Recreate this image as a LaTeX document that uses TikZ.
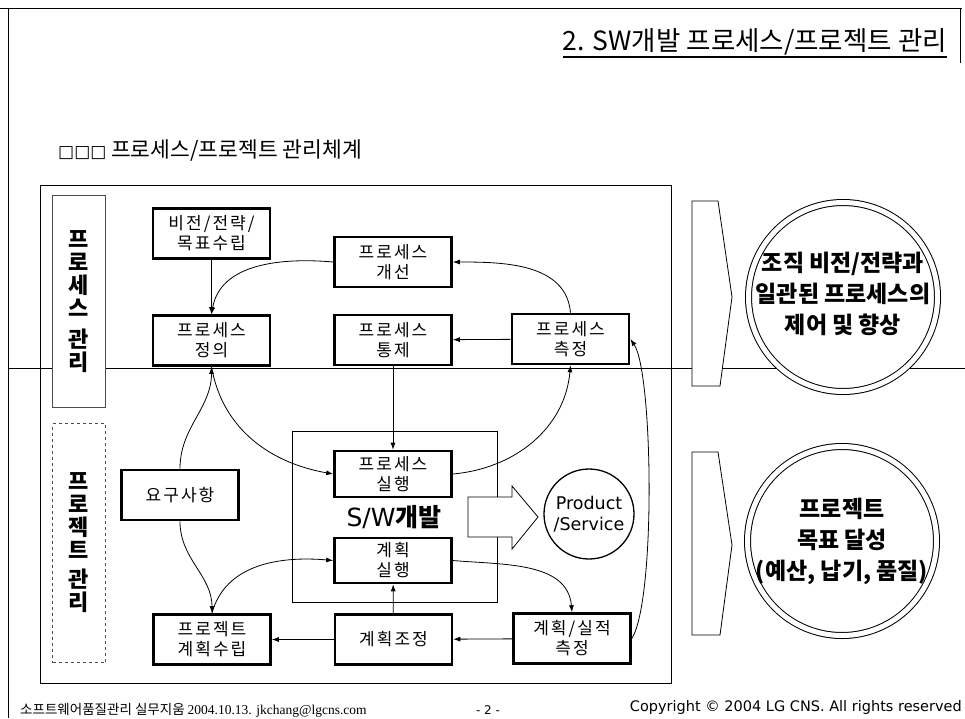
\documentclass[tikz,border=0pt]{standalone}
\usepackage{fontspec}
\setmainfont{Noto Sans CJK KR}
\newfontfamily\dejavu{DejaVu Sans}
\newfontfamily\timesfont{Liberation Serif}
\usetikzlibrary{arrows.meta}

\tikzset{
  thinline/.style={line width=0.8pt},
  pbox/.style={draw, line width=2.6pt, fill=white, minimum width=117pt, minimum height=50pt,
    inner sep=0pt, align=center, font=\fontsize{17}{20}\selectfont\addfontfeature{LetterSpace=12}},
  flow/.style={-{Latex[length=7pt,width=5pt]}, line width=0.8pt},
  sidelabel/.style={draw=black!70, line width=0.7pt, fill=white, minimum width=53pt, inner sep=0pt,
    align=center, font=\fontsize{22}{23}\selectfont\bfseries},
  goal/.style={circle, draw, double, double distance=5pt, line width=1pt, fill=white,
    minimum size=189pt, inner sep=0pt},
  goaltext/.style={align=center, inner sep=0pt, font=\fontsize{23}{31}\selectfont\bfseries},
  lens/.style={thinline, fill=white}
}

\begin{document}
\begin{tikzpicture}[x=1pt,y=-1pt]
\useasboundingbox (0,0) rectangle (965,718);

% page frame and divider
\draw[thinline] (0,8) -- (962,8);
\draw[thinline] (8,8) -- (8,718);
\draw[thinline] (960,8) -- (960,63);
\draw[thinline] (8,368) -- (965,368);

% heading
\node[anchor=base east, inner sep=0pt, font=\fontsize{26.5}{32}\selectfont] (title) at (947,50)
  {2. SW개발 프로세스/프로젝트 관리};
\draw[line width=1.3pt] ([yshift=-7pt]title.base west) -- ([yshift=-7pt]title.base east);
\node[anchor=base west, inner sep=0pt, font=\fontsize{21.5}{24}\selectfont] (subtitle) at (58,157)
  {{\dejavu\fontsize{17}{20}\selectfont □□□} 프로세스/프로젝트 관리체계};

% frames
\draw[thinline] (40,185) rectangle (671,683);
\draw[thinline] (292,431) rectangle (497,602);

% side labels
\node[sidelabel, minimum height=212pt] (proclabel) at (78.5,301.5) {프\\로\\세\\스\\[8pt]관\\리};
\node[sidelabel, dashed, minimum height=239pt] (projlabel) at (79,543) {프\\로\\젝\\트\\[6pt]관\\리};

% process boxes
\node[pbox] (vision)  at (211.5,233.5) {비전/전략/\\목표수립};
\node[pbox] (define)  at (211.5,340.5) {프로세스\\정의};
\node[pbox] (improve) at (393,262)     {프로세스\\개선};
\node[pbox] (control) at (393,340)     {프로세스\\통제};
\node[pbox] (measure) at (570.5,339)   {프로세스\\측정};

% project boxes
\node[pbox] (require)     at (180,495)     {요구사항};
\node[pbox, minimum height=46pt] (execproc) at (393,474)   {프로세스\\실행};
\node[pbox, minimum height=45pt] (execplan) at (393,560.5) {계획\\실행};
\node[pbox] (projplan)    at (212,639.5)   {프로젝트\\계획수립};
\node[pbox] (adjust)      at (393.5,639.5) {계획조정};
\node[pbox] (planmeasure) at (572,638.5)   {계획/실적\\측정};

\node[font=\fontsize{25}{28}\selectfont] (swdev) at (394,517) {{\dejavu S/W}\textbf{개발}};

% output arrow and product
\draw[thinline, fill=white] (468,497) -- (512,497) -- (512,486) -- (538,517) -- (512,549)
  -- (512,537) -- (468,537) -- cycle;
\node[circle, draw, line width=1.3pt, fill=white, minimum size=90pt, inner sep=0pt, align=center,
  font=\dejavu\fontsize{17.5}{21}\selectfont] (product) at (589,514) {Product\\/Service};

% connectors
\draw[flow] (vision) -- (define);
\draw[flow] (improve.west) to[out=175,in=80] (define.north);
\draw[flow] (measure.north) to[out=95,in=0] (improve.east);
\draw[flow] (measure) -- (control);
\draw[flow] (control) -- (execproc);
\draw[flow] (require.north) to[out=90,in=-90] (define.south);
\draw[flow] (define.south) to[out=-80,in=170] (execproc.west);
\draw[flow] (execproc.east) to[out=5,in=-95] (measure.south);
\draw[flow] (require.south) to[out=-90,in=90] (projplan.north);
\draw[flow] (projplan.north) to[out=75,in=175] (execplan.west);
\draw[flow] (execplan.east) to[out=-5,in=95] (planmeasure.north);
\draw[flow] (planmeasure) -- (adjust);
\draw[flow] (adjust) -- (projplan);
\draw[flow] (adjust) -- (execplan);
\draw[flow] (planmeasure.east) .. controls (656,600) and (653,372) .. (measure.east);

% goals
\draw[lens] (692,201) -- (718,201) -- (732,297) -- (720,386) -- (692,386) -- cycle;
\draw[lens] (692,452) -- (718,452) -- (732,545) -- (720,635) -- (692,635) -- cycle;
\node[goal] (procgoal) at (843,297) {};
\node[goaltext] (procgoaltext) at (843,294) {조직 비전/전략과\\일관된 프로세스의\\제어 및 향상};
\node[goal] (projgoal) at (842,541) {};
\node[goaltext] (projgoaltext) at (842,541) {프로젝트\\목표 달성\\(예산, 납기, 품질)};

% footer
\node[anchor=base west, inner sep=0pt, font=\fontsize{13.5}{15}\selectfont] (footleft) at (20,714)
  {소프트웨어품질관리 실무지움 {\timesfont 2004.10.13. jkchang@lgcns.com}};
\node[anchor=base, inner sep=0pt, font=\dejavu\fontsize{12}{13}\selectfont] (pagenum) at (488,714) {- 2 -};
\node[anchor=base east, inner sep=0pt, font=\dejavu\fontsize{14.5}{16}\selectfont] (copyright) at (962,711)
  {Copyright © 2004 LG CNS. All rights reserved};
\end{tikzpicture}
\end{document}
